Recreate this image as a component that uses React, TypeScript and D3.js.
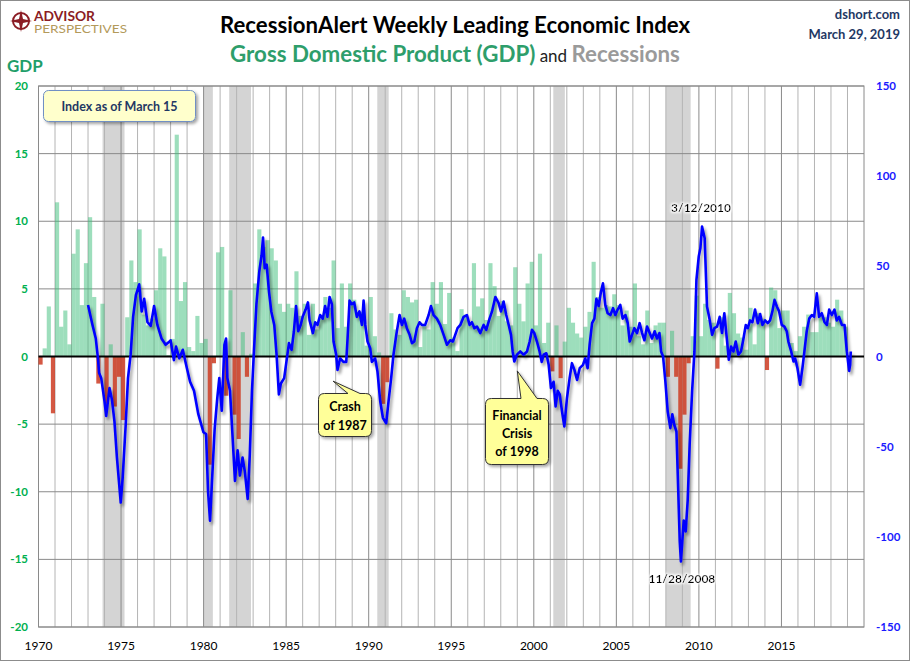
import * as d3 from 'd3';

// quarterly real GDP growth (annualized %), 1970Q1 .. 2018Q4
const gdpStart = 1970;
const gdpGrowth: number[] = [
  -0.6, 0.6, 3.7, -4.2, // 1970
  11.4, 2.2, 3.4, 0.9, // 1971
  7.6, 9.4, 3.8, 6.9, // 1972
  10.3, 4.4, -2.0, 3.9, // 1973
  -3.5, 0.9, -3.7, -1.5, // 1974
  -4.7, 2.9, 7.1, 5.5, // 1975
  9.4, 3.1, 2.3, 2.8, // 1976
  4.9, 8.0, 7.4, 0.1, // 1977
  1.3, 16.4, 4.1, 5.5, // 1978
  0.7, 0.4, 3.0, 1.0, // 1979
  1.3, -8.0, -0.5, 7.7, // 1980
  8.1, -2.9, 4.9, -4.3, // 1981
  -6.1, 1.8, -1.5, 0.2, // 1982
  5.4, 9.4, 8.1, 8.6, // 1983
  8.0, 7.1, 3.9, 3.3, // 1984
  3.9, 3.6, 6.3, 3.0, // 1985
  3.9, 1.6, 3.9, 2.0, // 1986
  2.8, 4.4, 3.6, 7.1, // 1987
  2.1, 5.4, 2.2, 5.4, // 1988
  4.2, 3.1, 3.3, 0.8, // 1989
  4.4, 1.5, 0.3, -3.5, // 1990
  -1.9, 3.2, 2.0, 1.6, // 1991
  4.9, 4.4, 4.0, 4.2, // 1992
  0.7, 2.3, 2.0, 5.5, // 1993
  3.9, 5.5, 2.4, 4.7, // 1994
  1.4, 0.4, 3.5, 3.1, // 1995
  2.3, 6.9, 3.7, 4.3, // 1996
  2.7, 6.9, 5.2, 3.0, // 1997
  4.1, 2.6, 2.3, 6.6, // 1998
  3.9, 2.6, 5.4, 7.0, // 1999
  2.3, 7.6, 1.0, 2.5, // 2000
  -1.1, 2.3, -1.6, 1.1, // 2001
  3.6, 2.5, 1.7, 1.4, // 2002
  2.2, 3.3, 7.0, 4.4, // 2003
  3.6, 3.8, 3.7, 4.6, // 2004
  3.8, 2.3, 3.4, 2.2, // 2005
  5.4, 1.5, 0.9, 3.4, // 2006
  1.0, 2.3, 2.5, 2.5, // 2007
  -1.5, 1.9, -1.5, -8.3, // 2008
  -4.3, -0.5, 1.5, 4.5, // 2009
  1.5, 3.9, 2.7, 2.5, // 2010
  -0.9, 2.9, 0.8, 4.7, // 2011
  3.2, 1.7, 1.4, 0.5, // 2012
  3.6, 0.9, 3.2, 2.8, // 2013
  -1.0, 5.1, 4.9, 2.1, // 2014
  3.4, 3.4, 1.0, 0.4, // 2015
  1.5, 2.2, 3.1, 1.8, // 2016
  1.8, 3.0, 2.9, 2.5, // 2017
  2.2, 4.2, 3.4, 2.2, // 2018
];

// NBER recessions (decimal years)
const recessionStarts = [1973.88, 1980.0, 1981.55, 1990.52, 2001.18, 2008.0];
const recessionEnds = [1975.21, 1980.56, 1982.87, 1991.21, 2001.88, 2009.5];

// RecessionAlert WLEI, right axis
const leiDates = [
  1973.0, 1973.27, 1973.47, 1973.6, 1973.67, 1973.8, 1974.0, 1974.1, 1974.3, 1974.45,
  1974.6, 1974.75, 1974.98, 1975.1, 1975.28, 1975.42, 1975.58, 1975.73, 1975.9, 1976.1,
  1976.25, 1976.4, 1976.6, 1976.8, 1977.0, 1977.2, 1977.45, 1977.7, 1977.9, 1978.0,
  1978.2, 1978.33, 1978.53, 1978.74, 1978.94, 1979.18, 1979.42, 1979.68, 1979.99, 1980.15,
  1980.27, 1980.39, 1980.51, 1980.67, 1980.83, 1980.95, 1981.1, 1981.26, 1981.36, 1981.44,
  1981.6, 1981.74, 1981.9, 1982.06, 1982.2, 1982.36, 1982.5, 1982.67, 1982.8, 1982.93,
  1983.05, 1983.2, 1983.37, 1983.51, 1983.6, 1983.7, 1983.82, 1983.96, 1984.1, 1984.28,
  1984.42, 1984.56, 1984.68, 1984.88, 1985.03, 1985.17, 1985.33, 1985.47, 1985.6, 1985.73,
  1985.88, 1986.0, 1986.18, 1986.32, 1986.42, 1986.62, 1986.76, 1986.9, 1987.06, 1987.22,
  1987.36, 1987.5, 1987.63, 1987.77, 1987.87, 1988.03, 1988.11, 1988.27, 1988.47, 1988.64,
  1988.72, 1988.84, 1988.98, 1989.12, 1989.28, 1989.44, 1989.59, 1989.69, 1989.79, 1989.93,
  1990.09, 1990.19, 1990.39, 1990.53, 1990.7, 1990.86, 1991.06, 1991.2, 1991.36, 1991.5,
  1991.67, 1991.87, 1992.01, 1992.15, 1992.31, 1992.48, 1992.62, 1992.76, 1992.92, 1993.08,
  1993.22, 1993.42, 1993.63, 1993.77, 1993.93, 1994.13, 1994.33, 1994.54, 1994.74, 1994.94,
  1995.1, 1995.24, 1995.38, 1995.55, 1995.75, 1995.95, 1996.11, 1996.25, 1996.4, 1996.56,
  1996.76, 1996.96, 1997.12, 1997.32, 1997.47, 1997.67, 1997.87, 1998.01, 1998.17, 1998.33,
  1998.48, 1998.62, 1998.72, 1998.82, 1998.98, 1999.18, 1999.38, 1999.59, 1999.75, 1999.89,
  2000.03, 2000.19, 2000.35, 2000.48, 2000.6, 2000.76, 2000.9, 2001.04, 2001.2, 2001.32,
  2001.45, 2001.57, 2001.71, 2001.85, 2002.01, 2002.17, 2002.31, 2002.46, 2002.62, 2002.78,
  2002.98, 2003.12, 2003.26, 2003.38, 2003.53, 2003.67, 2003.79, 2003.93, 2004.07, 2004.19,
  2004.33, 2004.47, 2004.64, 2004.8, 2004.94, 2005.08, 2005.24, 2005.38, 2005.55, 2005.69,
  2005.81, 2005.95, 2006.09, 2006.25, 2006.41, 2006.56, 2006.7, 2006.86, 2007.02, 2007.16,
  2007.32, 2007.46, 2007.61, 2007.71, 2007.83, 2007.97, 2008.11, 2008.27, 2008.39, 2008.51,
  2008.64, 2008.72, 2008.84, 2008.91, 2009.08, 2009.2, 2009.32, 2009.44, 2009.59, 2009.73,
  2009.85, 2009.99, 2010.09, 2010.19, 2010.35, 2010.49, 2010.64, 2010.8, 2010.94, 2011.1,
  2011.26, 2011.4, 2011.54, 2011.71, 2011.81, 2011.95, 2012.09, 2012.23, 2012.39, 2012.55,
  2012.7, 2012.84, 2012.96, 2013.1, 2013.24, 2013.4, 2013.57, 2013.71, 2013.85, 2014.01,
  2014.17, 2014.31, 2014.45, 2014.58, 2014.72, 2014.86, 2015.02, 2015.18, 2015.32, 2015.42,
  2015.59, 2015.73, 2015.83, 2015.97, 2016.13, 2016.27, 2016.39, 2016.53, 2016.68, 2016.84,
  2016.98, 2017.14, 2017.28, 2017.44, 2017.61, 2017.75, 2017.89, 2018.05, 2018.21, 2018.35,
  2018.49, 2018.66, 2018.82, 2018.96, 2019.1, 2019.16, 2019.2,
];
const leiValues = [
  28.6, 17.5, 10, -1, -9, -12, -25, -33, -17.5, -24,
  -36, -56, -81, -67, -38, -12, 1, 22, 34, 40,
  25, 32, 19, 17, 28, 17.5, 10, 6.5, 8, 9,
  -2, 5.5, -1, 3.7, -4.6, -14, -19, -32, -42, -43,
  -75, -91, -69, -40, -23, -12, -30, 6.5, 10, -12,
  -19, -42, -69, -52, -66, -56, -64, -79, -54, -19,
  3, 29, 47, 56, 66, 49, 51, 36, 25, 17.5,
  1, -21, -15, -12, -2, 7.4, 3.7, 14, 28, 14,
  17.5, 22, 26, 30, 20, 13, 19, 17.5, 23, 21,
  28, 22, 33, 29, 8.3, 1, -7.4, -1, -3, -3,
  10, 31, 29, 30, 22, 25, 17.5, 31, 17.5, 8.3,
  4.6, -3, -1, -8.3, -25, -34, -37, -25, -12, 1,
  12, 23, 17.5, 21, 15.7, 12, 7.4, 8.3, 15.7, 19,
  17.5, 17.5, 23, 28, 23, 21, 17.5, 12, 6.5, 9,
  8.3, 12, 15.7, 17.5, 22, 23, 17.5, 19, 15.7, 16.6,
  13, 17.5, 14.8, 21, 25, 33, 29.6, 25, 30.5, 23,
  17.5, 12, 2.8, -2.8, 1, 2.8, 1, 2.8, 8.3, 14.8,
  13, 8.3, 2.8, -3, 1, 1.8, -4.6, -17.5, -14, -27.7,
  -19, -21, -30.5, -38.8, -23, -12, -3.7, -7.4, -13, -6.5,
  -4.6, -1, -6.5, 6.5, 18.5, 21, 32, 28, 36, 40.6,
  28.6, 24, 23, 26.8, 23, 26, 28.6, 21, 23, 18.5,
  8.3, 12, 15.7, 13, 18.5, 13, 9, 16.6, 13, 10,
  14, 10, 13, 2.8, 0, -14, -30.5, -39.7, -32, -38,
  -41.6, -65.6, -102.5, -113.6, -91, -97, -80, -49, -19, 2.8,
  42.5, 55.4, 60, 72, 65.6, 27.7, 21, 12, 15.7, 16.6,
  22, 13, 24, 8.3, -1.8, 5.5, 2.8, 8.3, 1, 2.8,
  10, 17.5, 15.7, 20, 19, 26, 18.5, 23.5, 17.5, 20,
  18.5, 20, 25, 31.4, 27.7, 25, 17.5, 16.6, 14, 8.3,
  2.8, -2.8, -1, -6.5, -15.7, -6.5, 2.8, 14, 21, 23,
  22, 35, 22, 24, 19, 17.5, 26, 23, 26, 20,
  22, 17.5, 17.5, 2.8, -8, -4.6, 2.8,
];

const gdpTicks = [-20, -15, -10, -5, 0, 5, 10, 15, 20];
const leiTicks = [-150, -100, -50, 0, 50, 100, 150];
const yearLabels = [1970, 1975, 1980, 1985, 1990, 1995, 2000, 2005, 2010, 2015];

const W = 910;
const H = 661;
const left = 38.5;
const right = 864;
const top = 86;
const bottom = 627;
const FONT = 'Lato, "Open Sans", sans-serif';

function callout(x0: number, y0: number, w: number, h: number, b1: number, b2: number, tx: number, ty: number) {
  const r = 6;
  return `M${x0 + r},${y0} L${b1},${y0} L${tx},${ty} L${b2},${y0} L${x0 + w - r},${y0} Q${x0 + w},${y0} ${x0 + w},${y0 + r} L${x0 + w},${y0 + h - r} Q${x0 + w},${y0 + h} ${x0 + w - r},${y0 + h} L${x0 + r},${y0 + h} Q${x0},${y0 + h} ${x0},${y0 + h - r} L${x0},${y0 + r} Q${x0},${y0} ${x0 + r},${y0} Z`;
}

export default function App() {
  const x = d3.scaleLinear().domain([1970, 2020]).range([left, right]);
  const yG = d3.scaleLinear().domain([-20, 20]).range([bottom, top]);
  const yL = d3.scaleLinear().domain([-150, 150]).range([bottom, top]);
  const qw = x(1970.25) - x(1970);

  const line = d3
    .line<number>()
    .x((_, i) => x(leiDates[i]))
    .y((d) => yL(d))
    .curve(d3.curveLinear);

  const years = d3.range(1971, 2020);
  const crash = { tx: x(1987.9), ty: yL(-12) };
  const lowIdx = leiValues.indexOf(d3.min(leiValues)!);
  const highIdx = leiValues.indexOf(d3.max(leiValues)!);

  return (
    <svg width={W} height={H} style={{ position: 'absolute', left: 0, top: 0, fontFamily: FONT }}>
      <defs>
        <filter id="shadow" x="-5%" y="-5%" width="110%" height="115%">
          <feDropShadow dx="2" dy="3" stdDeviation="1.5" floodColor="#000" floodOpacity="0.4" />
        </filter>
        <filter id="boxShadow" x="-10%" y="-10%" width="130%" height="140%">
          <feDropShadow dx="2" dy="2" stdDeviation="1.5" floodColor="#000" floodOpacity="0.35" />
        </filter>
        <filter id="glow" x="-10%" y="-30%" width="120%" height="160%">
          <feMorphology operator="dilate" radius="1.2" in="SourceAlpha" result="d" />
          <feGaussianBlur in="d" stdDeviation="1" result="b" />
          <feFlood floodColor="#fff" />
          <feComposite in2="b" operator="in" result="g" />
          <feMerge>
            <feMergeNode in="g" />
            <feMergeNode in="SourceGraphic" />
          </feMerge>
        </filter>
      </defs>
      <rect x={0.5} y={0.5} width={W - 1} height={H - 1} fill="#fff" stroke="#8c8c8c" />

      {/* recession shading */}
      {recessionStarts.map((s, i) => (
        <rect key={'r' + i} x={x(s)} y={top} width={x(recessionEnds[i]) - x(s)} height={bottom - top} fill="#d4d4d4" />
      ))}

      {/* gridlines */}
      {years.map((yr) => (
        <line key={'v' + yr} x1={x(yr)} x2={x(yr)} y1={top} y2={bottom} stroke={yr % 5 === 0 ? '#8a8a8a' : '#b4b4b4'} strokeWidth={1} />
      ))}
      {gdpTicks.map((t) => (
        <line key={'h' + t} x1={left} x2={right} y1={yG(t)} y2={yG(t)} stroke="#8a8a8a" strokeWidth={1} />
      ))}
      <rect x={left} y={top} width={right - left} height={bottom - top} fill="none" stroke="#8a8a8a" />

      {/* GDP bars */}
      {gdpGrowth.map((v, i) => {
        const q = gdpStart + i / 4;
        return (
          <rect
            key={'b' + i}
            x={x(q)}
            width={qw}
            y={v >= 0 ? yG(v) : yG(0)}
            height={Math.abs(yG(v) - yG(0))}
            fill={v >= 0 ? '#3cbd7a' : '#cc3b22'}
            fillOpacity={v >= 0 ? 0.5 : 0.85}
          />
        );
      })}

      <line x1={left} x2={right} y1={yG(0)} y2={yG(0)} stroke="#000" strokeWidth={2.2} />

      {/* WLEI line */}
      <path d={line(leiValues)!} fill="none" stroke="#0000ff" strokeWidth={2.6} strokeLinejoin="round" filter="url(#shadow)" />

      {/* left axis */}
      {gdpTicks.map((t) => (
        <text key={'gl' + t} x={28} y={yG(t) + 4} textAnchor="end" fontSize={11.5} fontWeight="bold" fill="#00b050">
          {t}
        </text>
      ))}
      {/* right axis */}
      {leiTicks.map((t) => (
        <text key={'ll' + t} x={876} y={yL(t) + 4} fontSize={11.5} fontWeight="bold" fill="#1a1aff">
          {t}
        </text>
      ))}
      {/* x axis */}
      {yearLabels.map((yr) => (
        <text key={'x' + yr} x={x(yr)} y={650} textAnchor="middle" fontSize={12} fill="#000">
          {yr}
        </text>
      ))}

      {/* titles */}
      <text x={455} y={33} textAnchor="middle" fontSize={22.2} fontWeight="bold" fill="#000">
        RecessionAlert Weekly Leading Economic Index
      </text>
      <text x={455} y={62} textAnchor="middle" fontSize={22.3} fontWeight="bold">
        <tspan fill="#2e9e6b">Gross Domestic Product (GDP)</tspan>
        <tspan fill="#222" fontWeight="normal" fontSize={17}> and </tspan>
        <tspan fill="#9a9a9a">Recessions</tspan>
      </text>
      <text x={900} y={19} textAnchor="end" fontSize={13} fontWeight="bold" fill="#1f3864">
        dshort.com
      </text>
      <text x={900} y={39} textAnchor="end" fontSize={13} fontWeight="bold" fill="#1f3864">
        March 29, 2019
      </text>
      <text x={7} y={72} fontSize={17} fontWeight="bold" fill="#1e9e6a">
        GDP
      </text>

      {/* logo */}
      <g>
        <circle cx={21} cy={21} r={8} fill="none" stroke="#8b1c24" strokeWidth={2} />
        <path d="M21,10 L23,19 L32,21 L23,23 L21,32 L19,23 L10,21 L19,19 Z" fill="#8b1c24" />
        <text x={34} y={20.5} fontSize={12.5} fontWeight="bold" fill="#8b1c24" textLength={61} lengthAdjust="spacingAndGlyphs">
          ADVISOR
        </text>
        <text x={34} y={32.5} fontSize={10.5} fill="#b39a5b" textLength={93} lengthAdjust="spacingAndGlyphs">
          PERSPECTIVES
        </text>
      </g>

      {/* index box */}
      <rect x={43.5} y={90.5} width={152} height={31} rx={5} fill="#ffffcc" stroke="#6f8fc4" filter="url(#boxShadow)" />
      <text x={119.5} y={111} textAnchor="middle" fontSize={12.5} fontWeight="bold" fill="#1f3864">
        Index as of March 15
      </text>

      {/* callouts */}
      <path d={callout(318.5, 393.5, 53, 43, 348, 360, crash.tx - 1, crash.ty + 3)} fill="#ffff99" stroke="#333" filter="url(#boxShadow)" />
      <text x={345} y={411} textAnchor="middle" fontSize={12.5} fontWeight="bold" fill="#000">
        Crash
      </text>
      <text x={345} y={430} textAnchor="middle" fontSize={12.5} fontWeight="bold" fill="#000">
        of 1987
      </text>
      <path d={callout(485.5, 398.5, 63, 66, 521, 537, x(1999.0), yL(-8))} fill="#ffff99" stroke="#333" filter="url(#boxShadow)" />
      <text x={517} y={420} textAnchor="middle" fontSize={12.5} fontWeight="bold" fill="#000">
        Financial
      </text>
      <text x={517} y={438} textAnchor="middle" fontSize={12.5} fontWeight="bold" fill="#000">
        Crisis
      </text>
      <text x={517} y={456} textAnchor="middle" fontSize={12.5} fontWeight="bold" fill="#000">
        of 1998
      </text>

      <text x={x(leiDates[highIdx]) - 1} y={yL(leiValues[highIdx]) - 15} textAnchor="middle" fontSize={12} fontWeight="bold" fill="#000" filter="url(#glow)">
        3/12/2010
      </text>
      <text x={x(leiDates[lowIdx]) + 1} y={yL(leiValues[lowIdx]) + 22} textAnchor="middle" fontSize={12} fontWeight="bold" fill="#000" filter="url(#glow)">
        11/28/2008
      </text>
    </svg>
  );
}
